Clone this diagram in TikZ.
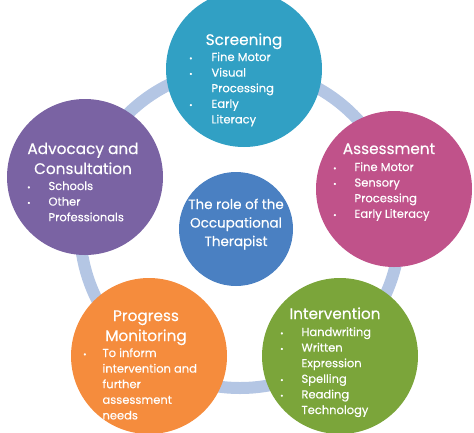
\documentclass[tikz,border=0pt]{standalone}
\usepackage{fontspec}
\setmainfont{Poppins}[FakeBold=0.3]

\definecolor{ringblue}{HTML}{B4C6E4}
\definecolor{screenC}{HTML}{31A0C4}
\definecolor{assessC}{HTML}{C0528A}
\definecolor{advocC}{HTML}{7A63A3}
\definecolor{progC}{HTML}{F58C3D}
\definecolor{interC}{HTML}{7BA53A}
\definecolor{roleC}{HTML}{4A80C2}

\newcommand{\bul}{{\fontsize{8}{8}\selectfont\textbullet}}

\tikzset{
  bubble/.style={circle, fill=#1, minimum size=156pt, inner sep=0pt},
  ttl/.style={text=white, anchor=base, inner sep=0pt, align=center,
    font=\fontsize{15.3}{20}\selectfont},
  items/.style={text=white, anchor=base west, inner sep=0pt,
    font=\fontsize{11.5}{15.6}\selectfont},
}

\begin{document}
\begin{tikzpicture}[x=1pt,y=-1pt]
    \useasboundingbox (0,0) rectangle (474,432);

    % ring behind the bubbles
    \coordinate (mid) at (240,228);
    \draw[ringblue,line width=12pt] (mid) circle (160pt);

    % centre (base = last line)
    \node[circle,fill=roleC,minimum size=114pt,inner sep=0pt] (role) at (236,229) {};
    \node[ttl,font=\fontsize{13.5}{18.5}\selectfont] (role-t) at (236,246)
        {The role of the\\Occupational\\Therapist};

    % screening
    \node[bubble=screenC] (screening) at (244,69) {};
    \node[ttl] (screening-t) at (244,45) {Screening};
    \node[items] (screening-l) at (189,61) {\begin{tabular}[t]{@{}l@{\hspace{19pt}}l@{}}
        \bul & Fine Motor\\ \bul & Visual\\ & Processing\\ \bul & Early\\ & Literacy
    \end{tabular}};

    % assessment
    \node[bubble=assessC] (assessment) at (394,189) {};
    \node[ttl] (assessment-t) at (389,154) {Assessment};
    \node[items] (assessment-l) at (333,171) {\begin{tabular}[t]{@{}l@{\hspace{18pt}}l@{}}
        \bul & Fine Motor\\ \bul & Sensory\\ & Processing\\ \bul & Early Literacy
    \end{tabular}};

    % advocacy
    \node[bubble=advocC] (advocacy) at (85,177) {};
    \node[ttl] (advocacy-t) at (83,174) {Advocacy and\\Consultation};
    \node[items] (advocacy-l) at (27,190) {\begin{tabular}[t]{@{}l@{\hspace{18pt}}l@{}}
        \bul & Schools\\ \bul & Other\\ & Professionals
    \end{tabular}};

    % progress monitoring
    \node[bubble=progC] (progress) at (149,356) {};
    \node[ttl] (progress-t) at (146,341) {Progress\\Monitoring};
    \node[items] (progress-l) at (83,357) {\begin{tabular}[t]{@{}l@{\hspace{16pt}}l@{}}
        \bul & To inform\\ & intervention and\\ & further\\ & assessment\\ & needs
    \end{tabular}};

    % intervention
    \node[bubble=interC] (intervention) at (340,356) {};
    \node[ttl] (intervention-t) at (335,319) {Intervention};
    \node[items] (intervention-l) at (280,336) {\begin{tabular}[t]{@{}l@{\hspace{18pt}}l@{}}
        \bul & Handwriting\\ \bul & Written\\ & Expression\\ \bul & Spelling\\
        \bul & Reading\\ \bul & Technology
    \end{tabular}};
\end{tikzpicture}
\end{document}
